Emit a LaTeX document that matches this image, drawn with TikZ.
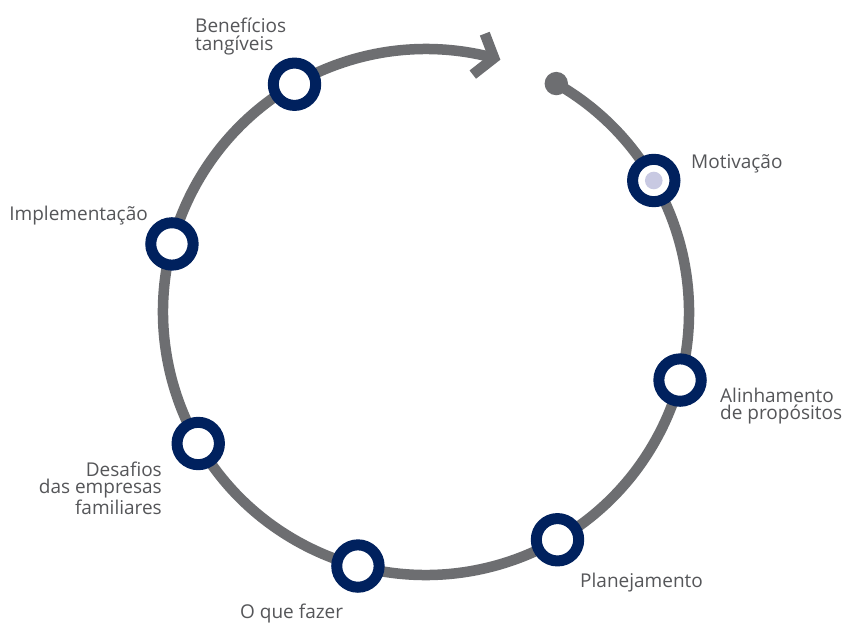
\documentclass[tikz,border=0pt]{standalone}
\usepackage{fontspec}
\setmainfont{Open Sans}
\usetikzlibrary{calc}
\definecolor{ringblue}{HTML}{00215E}
\definecolor{linegray}{HTML}{6D6E71}
\definecolor{txtgray}{HTML}{555659}
\definecolor{dotlav}{HTML}{C8C9E2}
\begin{document}
\begin{tikzpicture}[x=1pt,y=1pt,
  stage/.style={circle, draw=ringblue, line width=11pt, fill=white, minimum size=42.4pt, inner sep=0pt},
  lbl/.style={font=\fontsize{19}{17.5}\selectfont, text=txtgray, inner sep=0pt},
  track/.style={draw=linegray, line width=10.5pt}]
\useasboundingbox (0,0) rectangle (843,622);
\fill[white] (0,0) rectangle (843,622);
\coordinate (O) at (426,310);
\coordinate (S) at ($(O)+(60.3:263)$);
\coordinate (V) at ($(O)+(75:263)$);
\coordinate (A1) at ($(V)+(111:26)$);
\coordinate (A2) at ($(V)+(218:27)$);
\draw[track] (S) arc[start angle=60.3, end angle=-285, radius=263];
\draw[track, line join=miter] (A1) -- (V) -- (A2);
\fill[linegray] (S) circle (11.7);
\node[stage] (mot) at ($(O)+(30:263)$) {};
\fill[dotlav] (mot) circle (8.8);
\node[stage] (ali) at ($(O)+(-15:263)$) {};
\node[stage] (pla) at ($(O)+(-60:263)$) {};
\node[stage] (oqf) at ($(O)+(-105:263)$) {};
\node[stage] (des) at ($(O)+(-150:263)$) {};
\node[stage] (imp) at ($(O)+(165:263)$) {};
\node[stage] (ben) at ($(O)+(120:263)$) {};
\node[lbl, anchor=base west] (tmot) at (691,453.7) {Motivação};
\node[lbl, anchor=base west, align=left] (tali) at (720,202.5) {Alinhamento\\de propósitos};
\node[lbl, anchor=base west] (tpla) at (580,35) {Planejamento};
\node[lbl, anchor=base west] (toqf) at (240,4) {O que fazer};
\node[lbl, anchor=base east, align=right] (tdes) at (162,108) {Desafios\\das empresas\\familiares};
\node[lbl, anchor=base east] (timp) at (148,401) {Implementação};
\node[lbl, anchor=base west, align=left] (tben) at (195,571.8) {Benefícios\\tangíveis};
\end{tikzpicture}
\end{document}
